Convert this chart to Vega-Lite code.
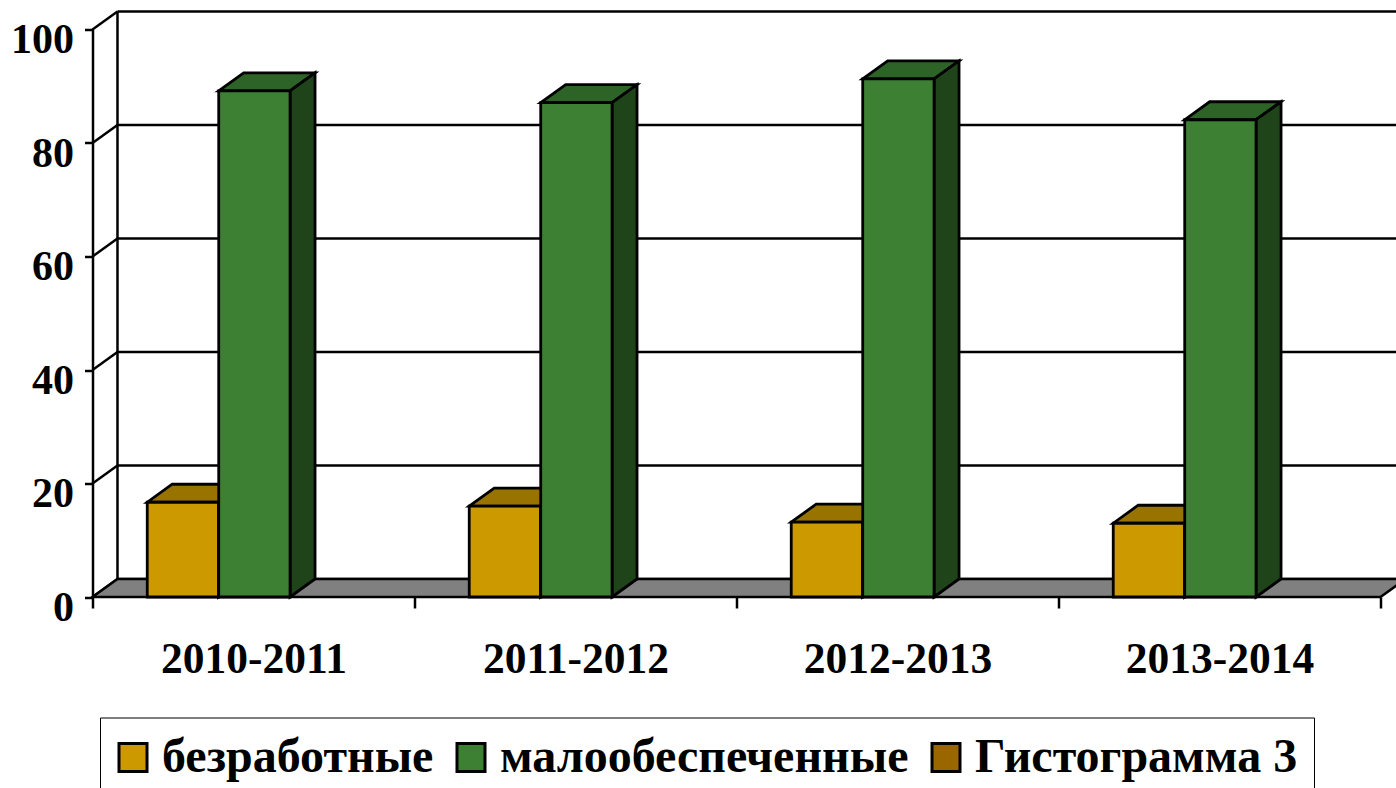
{
"$schema":"https://vega.github.io/schema/vega-lite/v6.json",
"width":1288,"height":567.5,"autosize":"none",
"padding":{"left":92.5,"top":29.5,"right":15.5,"bottom":191},
"background":"white",
"config":{"view":{"stroke":null}},
"datasets":{
"bars":[
{"year":"2010-2011","series":"безработные","value":16.7},
{"year":"2011-2012","series":"безработные","value":16},
{"year":"2012-2013","series":"безработные","value":13.2},
{"year":"2013-2014","series":"безработные","value":13},
{"year":"2010-2011","series":"малообеспеченные","value":89.2},
{"year":"2011-2012","series":"малообеспеченные","value":87.1},
{"year":"2012-2013","series":"малообеспеченные","value":91.3},
{"year":"2013-2014","series":"малообеспеченные","value":84.1}
],
"ticks":[{"tick":0},{"tick":20},{"tick":40},{"tick":60},{"tick":80},{"tick":100}],
"floor":[{"edge":0},{"edge":1}]
},
"data":{"name":"bars"},
"transform":[
{"calculate":"indexof(['2010-2011','2011-2012','2012-2013','2013-2014'],datum.year)","as":"i"},
{"calculate":"datum.i+(datum.series==='безработные'?0.17:0.392)","as":"x0"},
{"calculate":"datum.x0+0.2215","as":"x1"},
{"calculate":"0","as":"base"},
{"calculate":"datum.year+datum.series","as":"key"}
],
"layer":[
{"data":{"name":"ticks"},
 "transform":[{"calculate":"datum.tick+3.17","as":"back"},{"calculate":"0","as":"fx"},{"calculate":"0.0776","as":"bx"},{"calculate":"4.0776","as":"ex"}],
 "mark":{"type":"rule","color":"black","strokeWidth":2.5},
 "encoding":{
  "x":{"field":"fx","type":"quantitative","scale":{"domain":[0,4],"nice":false,"zero":false},
   "axis":{"title":null,"values":[0,0.5,1,1.5,2,2.5,3,3.5,4],"grid":false,"domain":false,"tickColor":"black","tickWidth":2.5,"tickSize":11,
    "tickOpacity":{"condition":{"test":"datum.value % 1 !== 0","value":0},"value":1},
    "labelExpr":"datum.value % 1 === 0 ? '' : ['2010-2011','2011-2012','2012-2013','2013-2014'][floor(datum.value)]",
    "labelFont":"Liberation Serif","labelFontWeight":"bold","labelFontSize":43.5,"labelColor":"black","labelPadding":30,"labelLimit":400,"labelOverlap":false,"labelFlush":false,"labelBound":false}},
  "x2":{"field":"bx"},
  "y":{"field":"tick","type":"quantitative","scale":{"domain":[0,100],"nice":false,"zero":false},
   "axis":{"title":null,"values":[0,20,40,60,80,100],"grid":false,"domain":true,"domainColor":"black","domainWidth":2.5,"tickColor":"black","tickWidth":2.5,"tickSize":8,
    "labelFont":"Liberation Serif","labelFontWeight":"bold","labelFontSize":42,"labelColor":"black","labelPadding":11,"labelOffset":10,"labelBaseline":"middle","labelOverlap":false,"labelFlush":false,"labelBound":false}},
  "y2":{"field":"back"}
 }},
{"data":{"name":"ticks"},
 "transform":[{"calculate":"datum.tick+3.17","as":"back"},{"calculate":"0.0776","as":"bx"},{"calculate":"4.0776","as":"ex"}],
 "mark":{"type":"rule","color":"black","strokeWidth":2.5},
 "encoding":{
  "x":{"field":"bx","type":"quantitative","axis":{"title":null}},
  "x2":{"field":"ex"},
  "y":{"field":"back","type":"quantitative","axis":{"title":null}}
 }},
{"data":{"name":"ticks"},
 "transform":[{"filter":"datum.tick===0"},{"calculate":"0.0776","as":"bx"},{"calculate":"3.17","as":"lo"},{"calculate":"103.17","as":"hi"}],
 "mark":{"type":"rule","color":"black","strokeWidth":2.5},
 "encoding":{
  "x":{"field":"bx","type":"quantitative","axis":{"title":null}},
  "y":{"field":"lo","type":"quantitative","axis":{"title":null}},
  "y2":{"field":"hi"}
 }},
{"data":{"name":"floor"},
 "transform":[
  {"calculate":"datum.edge*3.17","as":"yf"},
  {"calculate":"datum.edge*0.0776","as":"xa"},
  {"calculate":"4+datum.edge*0.0776","as":"xb"}
 ],
 "mark":{"type":"area","orient":"horizontal","fill":"#808080","stroke":"black","strokeWidth":2.5,"opacity":1},
 "encoding":{
  "y":{"field":"yf","type":"quantitative","axis":{"title":null}},
  "x":{"field":"xa","type":"quantitative","axis":{"title":null}},
  "x2":{"field":"xb"}
 }},
{"transform":[
  {"calculate":"[0,1]","as":"edge"},{"flatten":["edge"]},
  {"calculate":"datum.value+datum.edge*3.17","as":"yt"},
  {"calculate":"datum.x0+datum.edge*0.0776","as":"xa"},
  {"calculate":"datum.x1+datum.edge*0.0776","as":"xb"}
 ],
 "mark":{"type":"area","orient":"horizontal","stroke":"black","strokeWidth":2.8,"opacity":1},
 "encoding":{
  "y":{"field":"yt","type":"quantitative","axis":{"title":null}},
  "x":{"field":"xa","type":"quantitative","axis":{"title":null}},
  "x2":{"field":"xb"},
  "detail":{"field":"key"},
  "fill":{"condition":{"test":"datum.series==='безработные'","value":"#997300"},"value":"#2E6327"}
 }},
{"transform":[
  {"calculate":"[0,1]","as":"edge"},{"flatten":["edge"]},
  {"calculate":"datum.x1+datum.edge*0.0776","as":"xs"},
  {"calculate":"datum.edge*3.17","as":"ylo"},
  {"calculate":"datum.value+datum.edge*3.17","as":"yhi"}
 ],
 "mark":{"type":"area","orient":"vertical","stroke":"black","strokeWidth":2.8,"opacity":1},
 "encoding":{
  "x":{"field":"xs","type":"quantitative","axis":{"title":null}},
  "y":{"field":"ylo","type":"quantitative","axis":{"title":null}},
  "y2":{"field":"yhi"},
  "detail":{"field":"key"},
  "fill":{"condition":{"test":"datum.series==='безработные'","value":"#664D00"},"value":"#1F441A"}
 }},
{"mark":{"type":"rect","stroke":"black","strokeWidth":2.8,"opacity":1},
 "encoding":{
  "x":{"field":"x0","type":"quantitative","axis":{"title":null}},
  "x2":{"field":"x1"},
  "y":{"field":"base","type":"quantitative","axis":{"title":null}},
  "y2":{"field":"value"},
  "color":{"field":"series","type":"nominal",
   "scale":{"domain":["безработные","малообеспеченные","Гистограмма 3"],"range":["#CC9900","#3D8033","#996600"]},
   "legend":{"title":null,"orient":"none","legendX":7.5,"legendY":688,"direction":"horizontal","columns":3,
    "symbolType":"square","symbolSize":784,"symbolStrokeColor":"black","symbolStrokeWidth":3,"symbolOpacity":1,"symbolOffset":-7,
    "labelFont":"Liberation Serif","labelFontWeight":"bold","labelFontSize":48,"labelColor":"black","labelLimit":1000,"labelOffset":5,
    "columnPadding":17,"padding":16,"strokeColor":"black","fillColor":"white","labelBaseline":"middle"}}
 }}
]
}
